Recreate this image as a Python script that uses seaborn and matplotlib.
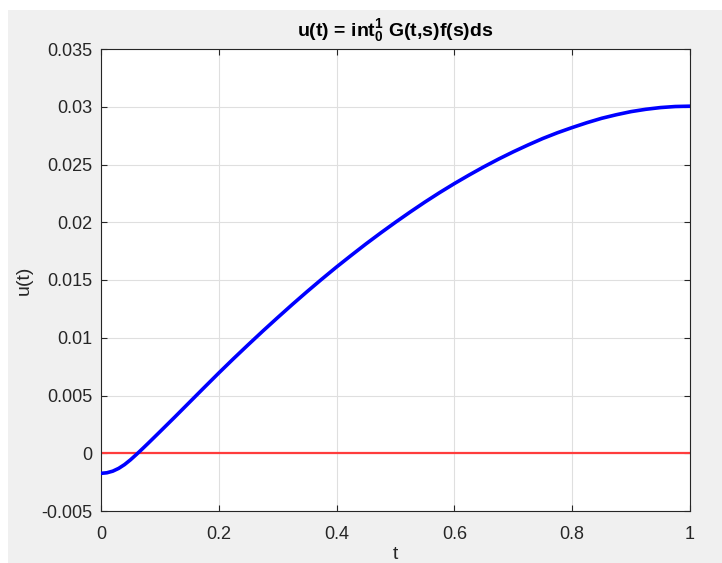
import matplotlib
matplotlib.use("Agg")
import matplotlib.pyplot as plt
import seaborn as sns
import pandas as pd
from matplotlib.patches import Rectangle

# Data
t_vals = [0.0, 0.01, 0.02, 0.03, 0.04, 0.05, 0.06, 0.07, 0.08, 0.09, 0.1,
          0.125, 0.15, 0.175, 0.2, 0.225, 0.25, 0.275, 0.3, 0.325, 0.35,
          0.375, 0.4, 0.425, 0.45, 0.475, 0.5, 0.525, 0.55, 0.575, 0.6,
          0.625, 0.65, 0.675, 0.7, 0.725, 0.75, 0.775, 0.8, 0.825, 0.85,
          0.875, 0.9, 0.925, 0.95, 0.975, 1.0]
u_vals = [-0.00174, -0.00169, -0.00155, -0.00131, -0.00098, -0.00057,
          -0.00011, 0.00037, 0.00086, 0.00136, 0.00186,
          0.00312, 0.00440, 0.00568, 0.00695, 0.00819, 0.00940, 0.01059,
          0.01175, 0.01289, 0.01400, 0.01508, 0.01613, 0.01714, 0.01813,
          0.01908, 0.02000, 0.02089, 0.02175, 0.02257, 0.02335, 0.02409,
          0.02480, 0.02547, 0.02610, 0.02669, 0.02725, 0.02775, 0.02820,
          0.02862, 0.02900, 0.02931, 0.02958, 0.02978, 0.02993, 0.03002,
          0.03005]
zero_t = [0.0, 1.0]
zero_u = [0.0, 0.0]
x_ticks = [0, 0.2, 0.4, 0.6, 0.8, 1]
x_tick_labels = ["0", "0.2", "0.4", "0.6", "0.8", "1"]
y_ticks = [-0.005, 0, 0.005, 0.01, 0.015, 0.02, 0.025, 0.03, 0.035]
y_tick_labels = ["-0.005", "0", "0.005", "0.01", "0.015", "0.02", "0.025", "0.03", "0.035"]
title_text = r"u(t) = int$\mathregular{_0^1}$ G(t,s)f(s)ds"

plt.rcParams['font.family'] = ['Liberation Sans', 'DejaVu Sans']
plt.rcParams['mathtext.fontset'] = 'custom'
plt.rcParams['mathtext.rm'] = 'Liberation Sans:bold'
plt.rcParams['mathtext.bf'] = 'Liberation Sans:bold'

W, H = 722, 563
fig = plt.figure(figsize=(W / 100, H / 100), dpi=100)
fig.patch.set_facecolor('white')
fig.patches.append(Rectangle((8 / W, 0), 1 - 8 / W, (H - 10) / H,
                             transform=fig.transFigure, facecolor='#f0f0f0',
                             edgecolor='none', zorder=-10))

ax = fig.add_axes([101 / W, (H - 511) / H, (690 - 101) / W, (511 - 49) / H])
ax.set_facecolor('white')

df = pd.DataFrame({"t": t_vals, "u": u_vals})
dz = pd.DataFrame({"t": zero_t, "u": zero_u})
sns.lineplot(data=df, x="t", y="u", ax=ax, color='#0000ff', linewidth=2.6, zorder=3)
sns.lineplot(data=dz, x="t", y="u", ax=ax, color='#ff3c3c', linewidth=1.6, zorder=2)

ax.set_xlim(0, 1)
ax.set_ylim(-0.005, 0.035)
ax.set_xticks(x_ticks)
ax.set_xticklabels(x_tick_labels)
ax.set_yticks(y_ticks)
ax.set_yticklabels(y_tick_labels)
ax.grid(True, color='#dfdfdf', linewidth=0.8)
ax.set_axisbelow(True)
ax.tick_params(direction='in', length=4, width=0.8, colors='#262626',
               labelsize=13, top=True, right=True)
ax.tick_params(axis='x', pad=11)
ax.tick_params(axis='y', pad=6)
for lbl in ax.get_xticklabels() + ax.get_yticklabels():
    lbl.set_color('#262626')
for s in ax.spines.values():
    s.set_color('#262626')
    s.set_linewidth(0.8)

ax.set_xlabel("t", fontsize=14, color='#262626', labelpad=2)
ax.set_ylabel("u(t)", fontsize=14, color='#262626', labelpad=6)
ax.set_title(title_text, fontsize=14, fontweight='bold', color='black', pad=9)

fig.savefig("out.png", dpi=100, facecolor=fig.get_facecolor())
